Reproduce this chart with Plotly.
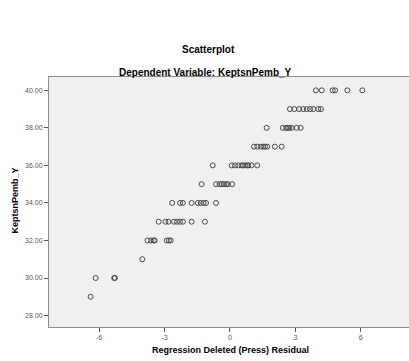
import plotly.graph_objects as go

# Residual x-values per dependent-variable level
rows = {
    29: [-6.39],
    30: [-6.16, -5.31, -5.28],
    31: [-4.02],
    32: [-3.78, -3.62, -3.50, -3.45, -2.90, -2.80, -2.72],
    33: [-3.27, -2.96, -2.82, -2.57, -2.43, -2.29, -2.16, -1.76, -1.15],
    34: [-2.65, -2.29, -2.16, -1.76, -1.48, -1.34, -1.21, -1.10, -0.64],
    35: [-1.30, -0.64, -0.48, -0.37, -0.28, -0.18, -0.09, 0.10],
    36: [-0.79, 0.08, 0.23, 0.38, 0.54, 0.60, 0.69, 0.78, 0.84, 0.99, 1.25],
    37: [1.10, 1.25, 1.42, 1.53, 1.61, 1.71, 2.06, 2.37],
    38: [1.68, 2.42, 2.57, 2.66, 2.72, 2.83, 3.06, 3.24],
    39: [2.75, 2.95, 3.17, 3.36, 3.52, 3.67, 3.82, 4.05, 4.17],
    40: [3.94, 4.21, 4.71, 4.82, 5.38, 6.07],
}
residuals = [x for yv, xs in rows.items() for x in xs]
dependent = [yv for yv, xs in rows.items() for x in xs]

x_ticks = [-6, -3, 0, 3, 6]
y_ticks = [28, 30, 32, 34, 36, 38, 40]

fig = go.Figure(go.Scatter(
    x=residuals, y=dependent, mode="markers",
    marker=dict(symbol="circle-open", size=5, color="#4a4a4a", line=dict(width=1, color="#4a4a4a")),
    hoverinfo="x+y",
))

axis_common = dict(
    showgrid=False, zeroline=False, showline=True, linecolor="#8c8c8c", linewidth=1,
    ticks="outside", ticklen=4, tickcolor="#555555",
    tickfont=dict(family="Liberation Sans, Arial", size=7, color="#555555"),
)

font_b = lambda s: dict(family="Liberation Sans, Arial", size=s, color="#000")

fig.update_layout(
    width=409, height=361,
    margin=dict(l=49, r=0, t=77, b=34),
    paper_bgcolor="white", plot_bgcolor="#f0f0f0",
    showlegend=False,
    xaxis=dict(range=[-8.30, 8.21], tickvals=x_ticks, ticktext=[str(v) for v in x_ticks], mirror=True, **axis_common),
    yaxis=dict(range=[27.39, 40.71], tickvals=y_ticks, tickformat=".2f", mirror=True, **axis_common),
    annotations=[
        dict(text="<b>Scatterplot</b>", xref="paper", yref="paper", x=0.442, y=1.111,
             xanchor="center", yanchor="middle", showarrow=False, font=font_b(10)),
        dict(text="<b>Dependent Variable: KeptsnPemb_Y</b>", xref="paper", yref="paper", x=0.435, y=1.02,
             xanchor="center", yanchor="middle", showarrow=False, font=font_b(10)),
        dict(text="<b>Regression Deleted (Press) Residual</b>", xref="paper", yref="paper", x=0.503, y=-0.093,
             xanchor="center", yanchor="middle", showarrow=False, font=font_b(9)),
        dict(text="<b>KeptsnPemb_Y</b>", xref="paper", yref="paper", x=-0.094, y=0.507, textangle=-90,
             xanchor="center", yanchor="middle", showarrow=False, font=font_b(9)),
    ],
)

fig.write_html("out.html")
